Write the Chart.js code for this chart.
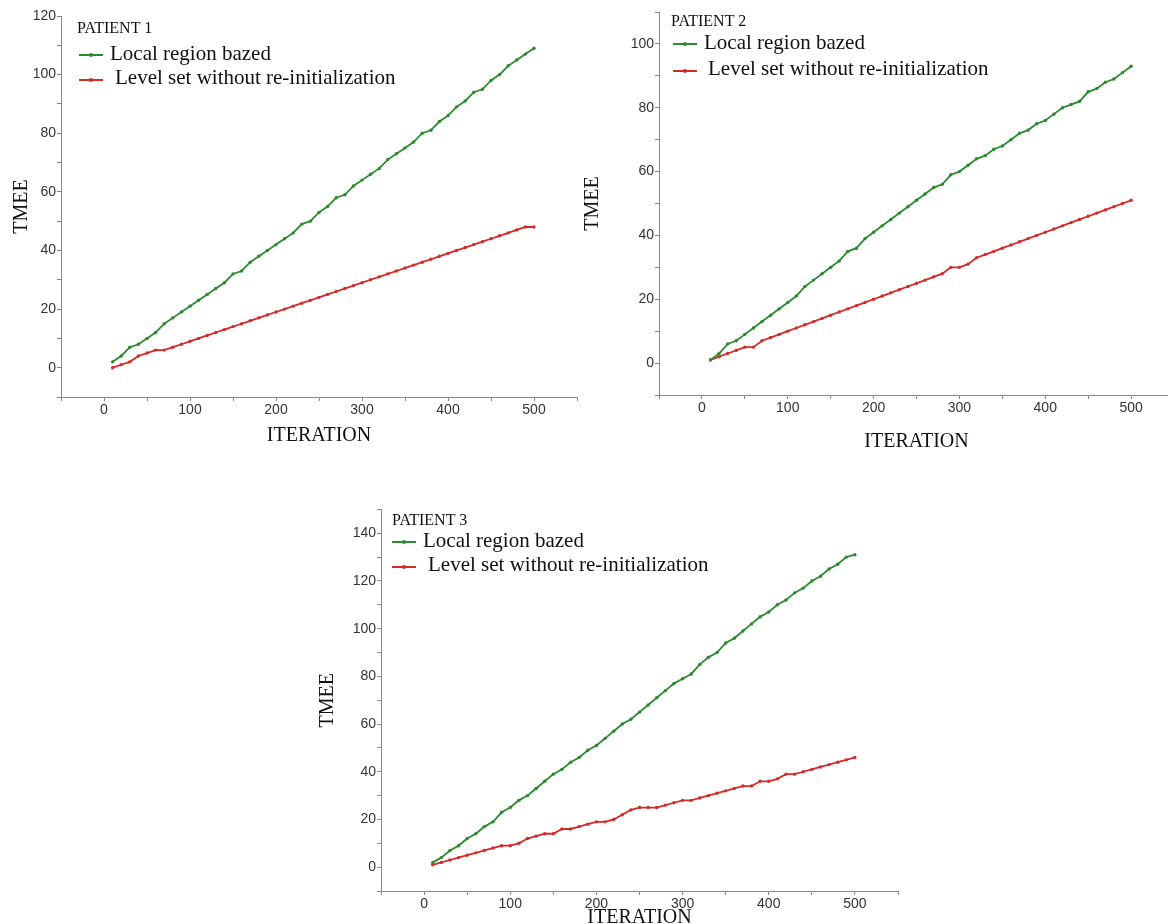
<!DOCTYPE html>
<html>
<head>
<meta charset="utf-8">
<script src="https://cdn.jsdelivr.net/npm/chart.js@4.4.0/dist/chart.umd.min.js"></script>
<style>
  html, body { margin: 0; padding: 0; background: #fff; }
  body { position: relative; width: 1168px; height: 924px; overflow: hidden; }
  canvas { position: absolute; }
  .lbl { position: absolute; font-family: "Liberation Serif", "Times New Roman", serif; color: #111; white-space: nowrap; }
  .patient { font-size: 16px; line-height: 18px; }
  .entry { font-size: 21px; line-height: 24px; }
  .swatch { position: absolute; width: 24px; height: 0; border-top: 2px solid; }
  .swatch i { position: absolute; left: 10px; top: -3.5px; width: 4px; height: 4px; border-radius: 50%; }
</style>
</head>
<body>
<canvas id="c1" width="590" height="452" style="left:6px;top:0px"></canvas>
<canvas id="c2" width="610" height="458" style="left:577px;top:0px"></canvas>
<canvas id="c3" width="600" height="434" style="left:312px;top:500px"></canvas>
<script>
// iterations on the x axis
const iterations = [10, 20, 30, 40, 50, 60, 70, 80, 90, 100,
  110, 120, 130, 140, 150, 160, 170, 180, 190, 200,
  210, 220, 230, 240, 250, 260, 270, 280, 290, 300,
  310, 320, 330, 340, 350, 360, 370, 380, 390, 400,
  410, 420, 430, 440, 450, 460, 470, 480, 490, 500];

const seriesNames = ['Local region bazed', 'Level set without re-initialization'];

// patient 1
const p1Local = [2, 4, 7, 8, 10, 12, 15, 17, 19, 21,
  23, 25, 27, 29, 32, 33, 36, 38, 40, 42,
  44, 46, 49, 50, 53, 55, 58, 59, 62, 64,
  66, 68, 71, 73, 75, 77, 80, 81, 84, 86,
  89, 91, 94, 95, 98, 100, 103, 105, 107, 109];
const p1Level = [0, 1, 2, 4, 5, 6, 6, 7, 8, 9,
  10, 11, 12, 13, 14, 15, 16, 17, 18, 19,
  20, 21, 22, 23, 24, 25, 26, 27, 28, 29,
  30, 31, 32, 33, 34, 35, 36, 37, 38, 39,
  40, 41, 42, 43, 44, 45, 46, 47, 48, 48];

// patient 2
const p2Local = [1, 3, 6, 7, 9, 11, 13, 15, 17, 19,
  21, 24, 26, 28, 30, 32, 35, 36, 39, 41,
  43, 45, 47, 49, 51, 53, 55, 56, 59, 60,
  62, 64, 65, 67, 68, 70, 72, 73, 75, 76,
  78, 80, 81, 82, 85, 86, 88, 89, 91, 93];
const p2Level = [1, 2, 3, 4, 5, 5, 7, 8, 9, 10,
  11, 12, 13, 14, 15, 16, 17, 18, 19, 20,
  21, 22, 23, 24, 25, 26, 27, 28, 30, 30,
  31, 33, 34, 35, 36, 37, 38, 39, 40, 41,
  42, 43, 44, 45, 46, 47, 48, 49, 50, 51];

// patient 3
const p3Local = [2, 4, 7, 9, 12, 14, 17, 19, 23, 25,
  28, 30, 33, 36, 39, 41, 44, 46, 49, 51,
  54, 57, 60, 62, 65, 68, 71, 74, 77, 79,
  81, 85, 88, 90, 94, 96, 99, 102, 105, 107,
  110, 112, 115, 117, 120, 122, 125, 127, 130, 131];
const p3Level = [1, 2, 3, 4, 5, 6, 7, 8, 9, 9,
  10, 12, 13, 14, 14, 16, 16, 17, 18, 19,
  19, 20, 22, 24, 25, 25, 25, 26, 27, 28,
  28, 29, 30, 31, 32, 33, 34, 34, 36, 36,
  37, 39, 39, 40, 41, 42, 43, 44, 45, 46];

const green = '#2b8a2f';
const red = '#d42a2a';
const axisGrey = '#888';
const serif = '"Liberation Serif", "Times New Roman", serif';

Chart.defaults.font.family = '"Liberation Sans", Arial, sans-serif';

function points(ys) {
  return iterations.map((x, i) => ({ x: x, y: ys[i] }));
}

function lineSet(label, ys, color) {
  return {
    label: label,
    data: points(ys),
    borderColor: color,
    backgroundColor: color,
    borderWidth: 1.8,
    pointRadius: 1.7,
    pointBorderWidth: 0,
    pointBackgroundColor: color,
    tension: 0
  };
}

function makeChart(id, local, level, o) {
  const ctx = document.getElementById(id);
  return new Chart(ctx, {
    type: 'line',
    data: {
      datasets: [
        lineSet(seriesNames[0], local, green),
        lineSet(seriesNames[1], level, red)
      ]
    },
    options: {
      responsive: false,
      animation: false,
      events: [],
      layout: { padding: { top: o.padTop, right: o.padRight, bottom: 0, left: 0 } },
      plugins: { legend: { display: false }, tooltip: { enabled: false } },
      scales: {
        x: {
          type: 'linear',
          min: -50,
          max: 550,
          afterFit: (s) => { s.height = o.xHeight; },
          ticks: {
            stepSize: 50,
            autoSkip: false,
            maxRotation: 0,
            padding: 1,
            color: '#333',
            font: { size: 14 },
            callback: (v) => (v % 100 === 0 && v >= 0 && v <= 500) ? v : ''
          },
          grid: { drawOnChartArea: false, tickLength: 4, color: axisGrey },
          border: { color: axisGrey, width: 1 },
          title: {
            display: true,
            text: 'ITERATION',
            color: '#111',
            font: { family: serif, size: 20 },
            padding: { top: 0, bottom: 4 }
          }
        },
        y: {
          type: 'linear',
          min: -10,
          max: o.yMax,
          afterFit: (s) => { s.width = o.yWidth; },
          ticks: {
            stepSize: 10,
            autoSkip: false,
            padding: 1,
            color: '#333',
            font: { size: 14 },
            callback: (v) => (v % 20 === 0 && v >= 0) ? v : ''
          },
          grid: { drawOnChartArea: false, tickLength: 4, color: axisGrey },
          border: { color: axisGrey, width: 1 },
          title: {
            display: true,
            text: 'TMEE',
            color: '#111',
            font: { family: serif, size: 20 },
            padding: { top: 4, bottom: 0 }
          }
        }
      }
    }
  });
}

makeChart('c1', p1Local, p1Level, { yMax: 120, yWidth: 55, xHeight: 55, padTop: 16, padRight: 19 });
makeChart('c2', p2Local, p2Level, { yMax: 110, yWidth: 82, xHeight: 63, padTop: 12, padRight: 13 });
makeChart('c3', p3Local, p3Level, { yMax: 150, yWidth: 69, xHeight: 43, padTop: 7, padRight: 14 });

// in-plot legends, page coordinates
function addLegend(title, L) {
  const add = (cls, text, x, y) => {
    const d = document.createElement('div');
    d.className = 'lbl ' + cls;
    d.textContent = text;
    d.style.left = x + 'px';
    d.style.top = y + 'px';
    document.body.appendChild(d);
  };
  const swatch = (color, x, y) => {
    const s = document.createElement('div');
    s.className = 'swatch';
    s.style.borderColor = color;
    s.style.left = x + 'px';
    s.style.top = (y - 1) + 'px';
    const dot = document.createElement('i');
    dot.style.background = color;
    s.appendChild(dot);
    document.body.appendChild(s);
  };
  add('patient', title, L.px, L.py - 9);
  swatch(green, L.sx, L.l1);
  add('entry', seriesNames[0], L.t1, L.l1 - 14);
  swatch(red, L.sx, L.l2);
  add('entry', seriesNames[1], L.t2, L.l2 - 15);
}

addLegend('PATIENT 1', { px: 77, py: 28, sx: 79, l1: 55, t1: 110, l2: 80, t2: 115 });
addLegend('PATIENT 2', { px: 671, py: 21, sx: 673, l1: 44, t1: 704, l2: 71, t2: 708 });
addLegend('PATIENT 3', { px: 392, py: 520, sx: 392, l1: 542, t1: 423, l2: 567, t2: 428 });
</script>
</body>
</html>
